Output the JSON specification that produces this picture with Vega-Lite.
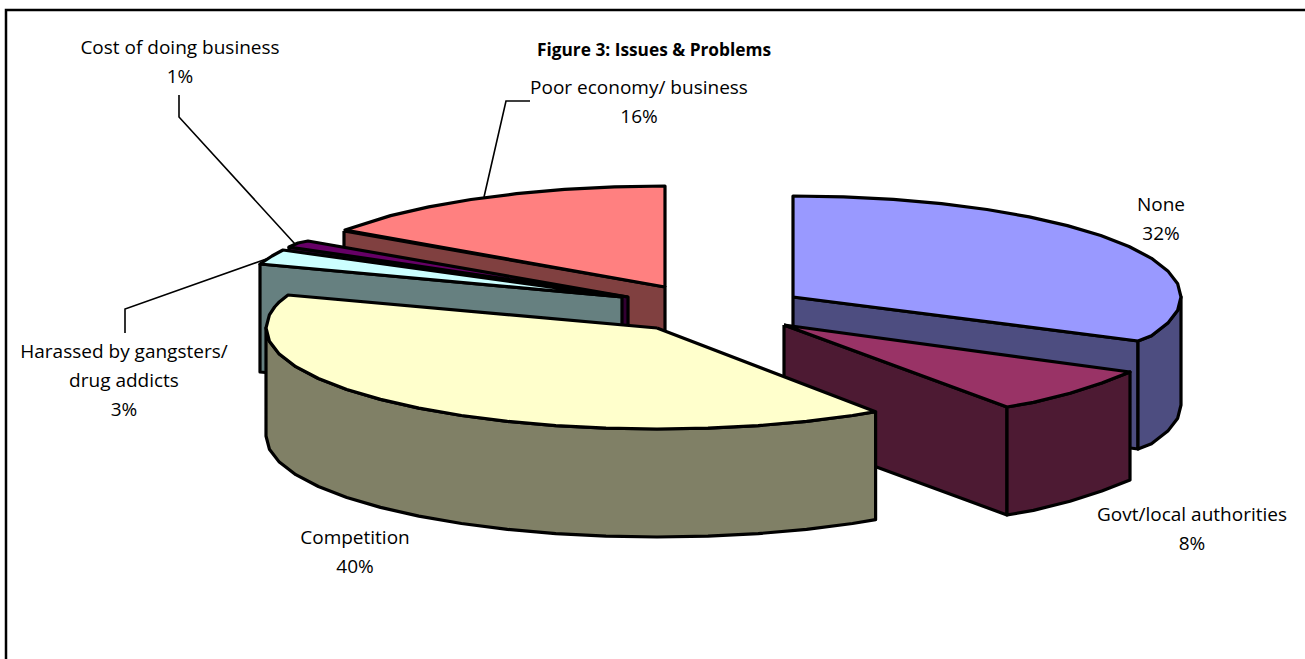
{
  "$schema": "https://vega.github.io/schema/vega-lite/v6.json",
  "width": 1305,
  "height": 659,
  "padding": 0,
  "autosize": {"type": "fit", "contains": "padding"},
  "background": "white",
  "view": {"stroke": null},
  "datasets": {
    "frame": [{"x0": 6, "x1": 1330, "y0": 10, "y1": 680}],
    "leaders": [
      {"slice": "Poor economy/ business", "seq": 0, "x": 484, "y": 197},
      {"slice": "Poor economy/ business", "seq": 1, "x": 506, "y": 101},
      {"slice": "Poor economy/ business", "seq": 2, "x": 530, "y": 101},
      {"slice": "Cost of doing business", "seq": 0, "x": 179, "y": 95},
      {"slice": "Cost of doing business", "seq": 1, "x": 179, "y": 117},
      {"slice": "Cost of doing business", "seq": 2, "x": 295, "y": 244},
      {"slice": "Harassed by gangsters", "seq": 0, "x": 125, "y": 333},
      {"slice": "Harassed by gangsters", "seq": 1, "x": 125, "y": 309},
      {"slice": "Harassed by gangsters", "seq": 2, "x": 272, "y": 257}
    ],
    "labels": [
      {"label": "Cost of doing business\n1%", "x": 180, "y": 54},
      {"label": "Poor economy/ business\n16%", "x": 639, "y": 94},
      {"label": "None\n32%", "x": 1161, "y": 211},
      {"label": "Govt/local authorities\n8%", "x": 1192, "y": 521},
      {"label": "Competition\n40%", "x": 355, "y": 544},
      {"label": "Harassed by gangsters/\ndrug addicts\n3%", "x": 124, "y": 358}
    ],
    "title": [{"label": "Figure 3: Issues & Problems", "x": 654, "y": 56}],
    "faces": [
      {"face":"Poor cut","seq":0,"x":344,"y":231},{"face":"Poor cut","seq":1,"x":665,"y":287},{"face":"Poor cut","seq":2,"x":665,"y":395},{"face":"Poor cut","seq":3,"x":344,"y":339},{"face":"Poor cut","seq":4,"x":344,"y":231},

      {"face":"Poor top","seq":0,"x":665,"y":287},{"face":"Poor top","seq":1,"x":665,"y":186},{"face":"Poor top","seq":2,"x":614.4,"y":186.9},{"face":"Poor top","seq":3,"x":564.6,"y":189.4},{"face":"Poor top","seq":4,"x":516.5,"y":193.7},{"face":"Poor top","seq":5,"x":471,"y":199.5},{"face":"Poor top","seq":6,"x":428.8,"y":206.9},{"face":"Poor top","seq":7,"x":390.6,"y":215.6},{"face":"Poor top","seq":8,"x":345,"y":230},{"face":"Poor top","seq":9,"x":665,"y":287},

      {"face":"Cost cut","seq":0,"x":289,"y":247},{"face":"Cost cut","seq":1,"x":628,"y":297},{"face":"Cost cut","seq":2,"x":628,"y":405},{"face":"Cost cut","seq":3,"x":289,"y":355},{"face":"Cost cut","seq":4,"x":289,"y":247},

      {"face":"Cost top","seq":0,"x":628,"y":297},{"face":"Cost top","seq":1,"x":308,"y":241},{"face":"Cost top","seq":2,"x":298,"y":243},{"face":"Cost top","seq":3,"x":289,"y":247},{"face":"Cost top","seq":4,"x":628,"y":297},

      {"face":"Harassed cut","seq":0,"x":260,"y":264},{"face":"Harassed cut","seq":1,"x":622,"y":297},{"face":"Harassed cut","seq":2,"x":622,"y":405},{"face":"Harassed cut","seq":3,"x":260,"y":372},{"face":"Harassed cut","seq":4,"x":260,"y":264},

      {"face":"Harassed top","seq":0,"x":622,"y":297},{"face":"Harassed top","seq":1,"x":283,"y":250},{"face":"Harassed top","seq":2,"x":272,"y":256},{"face":"Harassed top","seq":3,"x":260,"y":264},{"face":"Harassed top","seq":4,"x":622,"y":297},

      {"face":"None cut","seq":0,"x":793,"y":297},{"face":"None cut","seq":1,"x":1138,"y":341},{"face":"None cut","seq":2,"x":1138,"y":449},{"face":"None cut","seq":3,"x":793,"y":405},{"face":"None cut","seq":4,"x":793,"y":297},

      {"face":"None rim","seq":0,"x":1138,"y":341},{"face":"None rim","seq":1,"x":1151.5,"y":335.7},{"face":"None rim","seq":2,"x":1167.8,"y":323.1},{"face":"None rim","seq":3,"x":1177.7,"y":310.2},{"face":"None rim","seq":4,"x":1181,"y":297},{"face":"None rim","seq":5,"x":1181,"y":405},{"face":"None rim","seq":6,"x":1177.7,"y":418.2},{"face":"None rim","seq":7,"x":1167.8,"y":431.1},{"face":"None rim","seq":8,"x":1151.5,"y":443.7},{"face":"None rim","seq":9,"x":1138,"y":449},{"face":"None rim","seq":10,"x":1138,"y":341},

      {"face":"None top","seq":0,"x":793,"y":297},{"face":"None top","seq":1,"x":793,"y":196},{"face":"None top","seq":2,"x":843.6,"y":196.9},{"face":"None top","seq":3,"x":893.4,"y":199.4},{"face":"None top","seq":4,"x":941.5,"y":203.7},{"face":"None top","seq":5,"x":987,"y":209.5},{"face":"None top","seq":6,"x":1029.2,"y":216.9},{"face":"None top","seq":7,"x":1067.4,"y":225.6},{"face":"None top","seq":8,"x":1100.8,"y":235.5},{"face":"None top","seq":9,"x":1129,"y":246.5},{"face":"None top","seq":10,"x":1151.5,"y":258.3},{"face":"None top","seq":11,"x":1167.8,"y":270.9},{"face":"None top","seq":12,"x":1177.7,"y":283.8},{"face":"None top","seq":13,"x":1181,"y":297},{"face":"None top","seq":14,"x":1177.7,"y":310.2},{"face":"None top","seq":15,"x":1167.8,"y":323.1},{"face":"None top","seq":16,"x":1151.5,"y":335.7},{"face":"None top","seq":17,"x":1138,"y":341},{"face":"None top","seq":18,"x":793,"y":297},

      {"face":"Govt cut","seq":0,"x":784,"y":325},{"face":"Govt cut","seq":1,"x":1007,"y":407},{"face":"Govt cut","seq":2,"x":1007,"y":515},{"face":"Govt cut","seq":3,"x":784,"y":433},{"face":"Govt cut","seq":4,"x":784,"y":325},

      {"face":"Govt rim","seq":0,"x":1007,"y":407},{"face":"Govt rim","seq":1,"x":1033.4,"y":402.4},{"face":"Govt rim","seq":2,"x":1070,"y":393.2},{"face":"Govt rim","seq":3,"x":1101.8,"y":382.9},{"face":"Govt rim","seq":4,"x":1130,"y":372},{"face":"Govt rim","seq":5,"x":1130,"y":480},{"face":"Govt rim","seq":6,"x":1101.8,"y":490.9},{"face":"Govt rim","seq":7,"x":1070,"y":501.2},{"face":"Govt rim","seq":8,"x":1033.4,"y":510.4},{"face":"Govt rim","seq":9,"x":1007,"y":515},{"face":"Govt rim","seq":10,"x":1007,"y":407},

      {"face":"Govt top","seq":0,"x":784,"y":325},{"face":"Govt top","seq":1,"x":1130,"y":372},{"face":"Govt top","seq":2,"x":1101.8,"y":382.9},{"face":"Govt top","seq":3,"x":1070,"y":393.2},{"face":"Govt top","seq":4,"x":1033.4,"y":402.4},{"face":"Govt top","seq":5,"x":1007,"y":407},{"face":"Govt top","seq":6,"x":784,"y":325},

      {"face":"Competition rim","seq":0,"x":875.6,"y":411.7},{"face":"Competition rim","seq":1,"x":852.5,"y":415.5},{"face":"Competition rim","seq":2,"x":806.6,"y":421.3},{"face":"Competition rim","seq":3,"x":758.2,"y":425.6},{"face":"Competition rim","seq":4,"x":708,"y":428.1},{"face":"Competition rim","seq":5,"x":657,"y":429},{"face":"Competition rim","seq":6,"x":606,"y":428.1},{"face":"Competition rim","seq":7,"x":555.8,"y":425.6},{"face":"Competition rim","seq":8,"x":507.4,"y":421.3},{"face":"Competition rim","seq":9,"x":461.5,"y":415.5},{"face":"Competition rim","seq":10,"x":418.9,"y":408.1},{"face":"Competition rim","seq":11,"x":380.5,"y":399.4},{"face":"Competition rim","seq":12,"x":346.8,"y":389.5},{"face":"Competition rim","seq":13,"x":318.4,"y":378.5},{"face":"Competition rim","seq":14,"x":295.8,"y":366.7},{"face":"Competition rim","seq":15,"x":279.3,"y":354.1},{"face":"Competition rim","seq":16,"x":269.4,"y":341.2},{"face":"Competition rim","seq":17,"x":266,"y":328},{"face":"Competition rim","seq":18,"x":266,"y":436},{"face":"Competition rim","seq":19,"x":269.4,"y":449.2},{"face":"Competition rim","seq":20,"x":279.3,"y":462.1},{"face":"Competition rim","seq":21,"x":295.8,"y":474.7},{"face":"Competition rim","seq":22,"x":318.4,"y":486.5},{"face":"Competition rim","seq":23,"x":346.8,"y":497.5},{"face":"Competition rim","seq":24,"x":380.5,"y":507.4},{"face":"Competition rim","seq":25,"x":418.9,"y":516.1},{"face":"Competition rim","seq":26,"x":461.5,"y":523.5},{"face":"Competition rim","seq":27,"x":507.4,"y":529.3},{"face":"Competition rim","seq":28,"x":555.8,"y":533.6},{"face":"Competition rim","seq":29,"x":606,"y":536.1},{"face":"Competition rim","seq":30,"x":657,"y":537},{"face":"Competition rim","seq":31,"x":708,"y":536.1},{"face":"Competition rim","seq":32,"x":758.2,"y":533.6},{"face":"Competition rim","seq":33,"x":806.6,"y":529.3},{"face":"Competition rim","seq":34,"x":852.5,"y":523.5},{"face":"Competition rim","seq":35,"x":875.6,"y":519.7},{"face":"Competition rim","seq":36,"x":875.6,"y":411.7},

      {"face":"Competition top","seq":0,"x":657,"y":328},{"face":"Competition top","seq":1,"x":875.6,"y":411.7},{"face":"Competition top","seq":2,"x":852.5,"y":415.5},{"face":"Competition top","seq":3,"x":806.6,"y":421.3},{"face":"Competition top","seq":4,"x":758.2,"y":425.6},{"face":"Competition top","seq":5,"x":708,"y":428.1},{"face":"Competition top","seq":6,"x":657,"y":429},{"face":"Competition top","seq":7,"x":606,"y":428.1},{"face":"Competition top","seq":8,"x":555.8,"y":425.6},{"face":"Competition top","seq":9,"x":507.4,"y":421.3},{"face":"Competition top","seq":10,"x":461.5,"y":415.5},{"face":"Competition top","seq":11,"x":418.9,"y":408.1},{"face":"Competition top","seq":12,"x":380.5,"y":399.4},{"face":"Competition top","seq":13,"x":346.8,"y":389.5},{"face":"Competition top","seq":14,"x":318.4,"y":378.5},{"face":"Competition top","seq":15,"x":295.8,"y":366.7},{"face":"Competition top","seq":16,"x":279.3,"y":354.1},{"face":"Competition top","seq":17,"x":269.4,"y":341.2},{"face":"Competition top","seq":18,"x":266,"y":328},{"face":"Competition top","seq":19,"x":269.4,"y":314.8},{"face":"Competition top","seq":20,"x":274.6,"y":307},{"face":"Competition top","seq":21,"x":279.3,"y":301.9},{"face":"Competition top","seq":22,"x":288,"y":295},{"face":"Competition top","seq":23,"x":657,"y":328}
    ]
  },
  "layer": [
    {
      "data": {"name": "frame"},
      "mark": {"type": "rect", "fill": "white", "stroke": "black", "strokeWidth": 2.5, "clip": true},
      "encoding": {
        "x": {"field": "x0", "type": "quantitative", "scale": {"domain": [0, 1305], "nice": false, "zero": false}, "axis": null},
        "x2": {"field": "x1"},
        "y": {"field": "y0", "type": "quantitative", "scale": {"domain": [659, 0], "nice": false, "zero": false}, "axis": null},
        "y2": {"field": "y1"}
      }
    },
    {
      "data": {"name": "leaders"},
      "mark": {"type": "line", "stroke": "black", "strokeWidth": 1.6, "interpolate": "linear"},
      "encoding": {
        "x": {"field": "x", "type": "quantitative", "axis": null},
        "y": {"field": "y", "type": "quantitative", "axis": null},
        "detail": {"field": "slice"},
        "order": {"field": "seq", "type": "quantitative"}
      }
    },
    {
      "data": {"name": "faces"},
      "mark": {"type": "line", "stroke": "black", "strokeWidth": 3.2, "strokeJoin": "round", "interpolate": "linear"},
      "encoding": {
        "x": {"field": "x", "type": "quantitative", "axis": null},
        "y": {"field": "y", "type": "quantitative", "axis": null},
        "detail": {"field": "face"},
        "order": {"field": "seq", "type": "quantitative"},
        "fill": {
          "field": "face",
          "type": "nominal",
          "legend": null,
          "scale": {
            "domain": ["Poor cut", "Poor top", "Cost cut", "Cost top", "Harassed cut", "Harassed top", "None cut", "None rim", "None top", "Govt cut", "Govt rim", "Govt top", "Competition rim", "Competition top"],
            "range": ["#804040", "#FF8080", "#330033", "#660066", "#668080", "#CCFFFF", "#4D4D80", "#4D4D80", "#9999FF", "#4D1A33", "#4D1A33", "#993366", "#808066", "#FFFFCC"]
          }
        }
      }
    },
    {
      "data": {"name": "labels"},
      "mark": {"type": "text", "font": "Open Sans", "fontSize": 19, "align": "center", "baseline": "alphabetic", "lineBreak": "\n", "lineHeight": 29, "fill": "black"},
      "encoding": {
        "x": {"field": "x", "type": "quantitative", "axis": null},
        "y": {"field": "y", "type": "quantitative", "axis": null},
        "text": {"field": "label"}
      }
    },
    {
      "data": {"name": "title"},
      "mark": {"type": "text", "font": "Open Sans", "fontSize": 17.3, "fontWeight": "bold", "align": "center", "baseline": "alphabetic", "fill": "black"},
      "encoding": {
        "x": {"field": "x", "type": "quantitative", "axis": null},
        "y": {"field": "y", "type": "quantitative", "axis": null},
        "text": {"field": "label"}
      }
    }
  ]
}
